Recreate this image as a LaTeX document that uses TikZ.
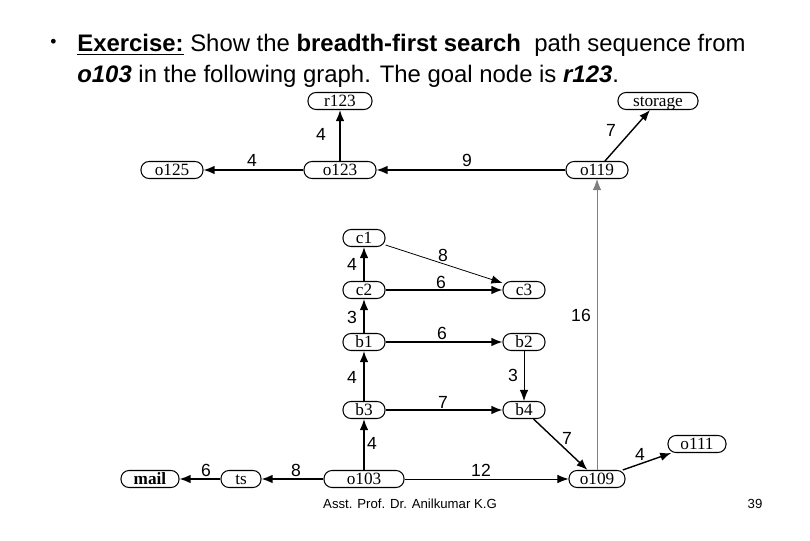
\documentclass[tikz,border=0pt]{standalone}
\usepackage{fontspec}
\setmainfont{Liberation Sans}
\newfontfamily\placefont{Liberation Serif}
\usetikzlibrary{arrows.meta}

\begin{document}
\begin{tikzpicture}[every node/.style={font=\fontsize{10}{12}\selectfont},
  place/.style={draw,line width=.6pt,rounded corners=.16cm,minimum height=.34cm,inner sep=0pt,text height=1.5ex,text depth=.3ex,font=\placefont\fontsize{9.8}{11}\selectfont},
  link/.style={line width=.8pt,-{Latex[length=2.2mm,width=1.7mm]}},
  thinlink/.style={link,line width=.45pt}]
\useasboundingbox (0,0) rectangle (16.2,10.8);
% title
\node[anchor=base west,inner sep=0pt,font=\fontsize{10}{12}\selectfont] (dot) at (1.00,9.84) {\textbullet};
\node[anchor=base west,inner sep=0pt,font=\fontsize{13.6}{16}\selectfont] (t1) at (1.54,9.76) {\underline{\textbf{Exercise:}} Show the \textbf{breadth-first search}\ \ path sequence from};
\node[anchor=base west,inner sep=0pt,font=\fontsize{13.6}{16}\selectfont] (t2) at (1.54,9.14) {\textbf{\textit{o103}} in the following graph. The goal node is \textbf{\textit{r123}}.};
% places
\node[place,minimum width=1.28cm] (r123) at (6.80,8.78) {r123};
\node[place,minimum width=1.60cm] (storage) at (13.16,8.78) {storage};
\node[place,minimum width=1.24cm] (o125) at (3.44,7.40) {o125};
\node[place,minimum width=1.44cm] (o123) at (6.80,7.40) {o123};
\node[place,minimum width=1.24cm] (o119) at (11.94,7.40) {o119};
\node[place,minimum width=0.84cm] (c1) at (7.28,6.04) {c1};
\node[place,minimum width=0.84cm] (c2) at (7.28,5.00) {c2};
\node[place,minimum width=0.84cm] (c3) at (10.48,5.00) {c3};
\node[place,minimum width=0.84cm] (b1) at (7.28,3.96) {b1};
\node[place,minimum width=0.84cm] (b2) at (10.48,3.96) {b2};
\node[place,minimum width=0.84cm] (b3) at (7.28,2.60) {b3};
\node[place,minimum width=0.84cm] (b4) at (10.48,2.60) {b4};
\node[place,minimum width=1.16cm] (o111) at (13.94,1.92) {o111};
\node[place,minimum width=1.16cm,font=\placefont\bfseries\fontsize{9.8}{11}\selectfont] (mail) at (3.00,1.22) {mail};
\node[place,minimum width=0.80cm] (ts) at (4.82,1.22) {ts};
\node[place,minimum width=1.60cm] (o103) at (7.28,1.22) {o103};
\node[place,minimum width=1.12cm] (o109) at (11.94,1.22) {o109};
% arcs
\draw[link] (o123) -- (r123);
\draw[link] (o123) -- (o125);
\draw[link] (o119) -- (o123);
\draw[link] (o119) -- (storage);
\draw[thinlink] (c1) -- (c3);
\draw[link] (c2) -- (c1);
\draw[link] (c2) -- (c3);
\draw[link] (b1) -- (c2);
\draw[link] (b1) -- (b2);
\draw[thinlink] (b2) -- (b4);
\draw[link] (b3) -- (b1);
\draw[link] (b3) -- (b4);
\draw[link] (o103) -- (b3);
\draw[link] (b4) -- (o109);
\draw[thinlink,draw=gray] (o109) -- (o119);
\draw[link] (o109) -- (o111);
\draw[thinlink] (o103) -- (o109);
\draw[link] (o103) -- (ts);
\draw[link] (ts) -- (mail);
% costs
\node (w1) at (6.42,8.12) {4};
\node (w2) at (5.04,7.60) {4};
\node (w3) at (9.34,7.60) {9};
\node (w4) at (12.22,8.20) {7};
\node (w5) at (8.86,5.70) {8};
\node (w6) at (7.04,5.52) {4};
\node (w7) at (8.82,5.16) {6};
\node (w8) at (7.04,4.46) {3};
\node (w9) at (8.84,4.14) {6};
\node (w10) at (10.26,3.30) {3};
\node (w11) at (7.04,3.26) {4};
\node (w12) at (8.86,2.76) {7};
\node (w13) at (7.44,1.94) {4};
\node (w14) at (11.34,2.04) {7};
\node (w15) at (11.62,4.50) {16};
\node (w16) at (12.80,1.72) {4};
\node (w17) at (9.62,1.40) {12};
\node (w18) at (5.92,1.40) {8};
\node (w19) at (4.12,1.40) {6};
% footer
\node[font=\fontsize{7.5}{9}\selectfont] (foot) at (8.20,0.72) {Asst. Prof. Dr. Anilkumar K.G};
\node[font=\fontsize{7.5}{9}\selectfont] (page) at (15.10,0.72) {39};
\end{tikzpicture}
\end{document}
